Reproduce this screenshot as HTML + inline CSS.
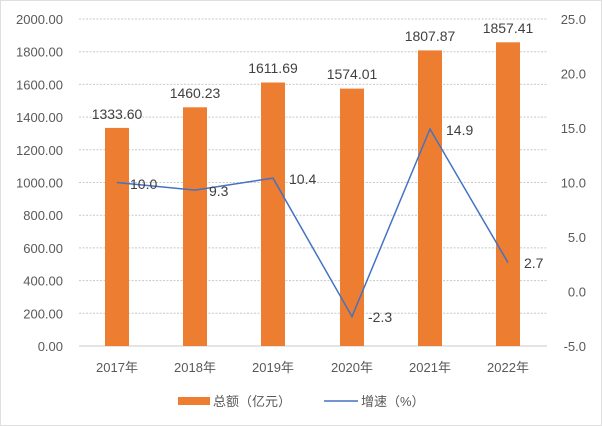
<!DOCTYPE html>
<html><head><meta charset="utf-8"><style>
body{margin:0;background:#fff}
svg{display:block}
text{font-family:"Liberation Sans","Noto Sans CJK SC",sans-serif}
</style></head><body>
<svg width="602" height="426" viewBox="0 0 602 426">
<rect x="0.5" y="0.5" width="601" height="425" fill="#fff" stroke="#bfbfbf" stroke-dasharray="1,1"/>
<g stroke="#c8c8c8" stroke-dasharray="2,1.5" stroke-width="1">
<line x1="79" x2="547" y1="19" y2="19"/><line x1="79" x2="547" y1="51.7" y2="51.7"/>
<line x1="79" x2="547" y1="84.4" y2="84.4"/><line x1="79" x2="547" y1="117.1" y2="117.1"/>
<line x1="79" x2="547" y1="149.8" y2="149.8"/><line x1="79" x2="547" y1="182.5" y2="182.5"/>
<line x1="79" x2="547" y1="215.2" y2="215.2"/><line x1="79" x2="547" y1="247.9" y2="247.9"/>
<line x1="79" x2="547" y1="280.6" y2="280.6"/><line x1="79" x2="547" y1="313.3" y2="313.3"/>
</g>
<line x1="79" x2="547" y1="346" y2="346" stroke="#c8c8c8"/>
<g font-size="13" fill="#595959" text-anchor="end">
<text x="63" y="24">2000.00</text><text x="63" y="56.7">1800.00</text><text x="63" y="89.4">1600.00</text>
<text x="63" y="122.1">1400.00</text><text x="63" y="154.8">1200.00</text><text x="63" y="187.5">1000.00</text>
<text x="63" y="220.2">800.00</text><text x="63" y="252.9">600.00</text><text x="63" y="285.6">400.00</text>
<text x="63" y="318.3">200.00</text><text x="63" y="351">0.00</text>
</g>
<g font-size="13" fill="#595959" text-anchor="end">
<text x="586" y="24">25.0</text><text x="586" y="78.5">20.0</text><text x="586" y="133">15.0</text>
<text x="586" y="187.5">10.0</text><text x="586" y="242">5.0</text><text x="586" y="296.5">0.0</text><text x="586" y="351">-5.0</text>
</g>
<g fill="#ed7d31">
<rect x="105" y="127.9" width="24" height="218.1"/>
<rect x="183" y="107.3" width="24" height="238.7"/>
<rect x="261" y="82.5" width="24" height="263.5"/>
<rect x="340" y="88.6" width="24" height="257.4"/>
<rect x="418" y="50.4" width="24" height="295.6"/>
<rect x="496" y="42.3" width="24" height="303.7"/>
</g>
<polyline fill="none" stroke="#4472c4" stroke-width="1.5" points="117,182.5 195,190.1 273,178.1 352,316.6 430,129 508,262.6"/>
<g font-size="14" fill="#404040" text-anchor="middle">
<text x="117" y="119">1333.60</text><text x="195" y="98">1460.23</text><text x="273" y="73">1611.69</text>
<text x="352" y="79">1574.01</text><text x="430" y="41">1807.87</text><text x="508" y="33">1857.41</text>
</g>
<g font-size="14" fill="#404040">
<text x="130" y="189">10.0</text><text x="209" y="196">9.3</text><text x="289" y="184">10.4</text>
<text x="368" y="322">-2.3</text><text x="446" y="135">14.9</text><text x="524" y="268">2.7</text>
</g>
<g font-size="13" fill="#595959" text-anchor="middle">
<text x="117" y="372">2017年</text><text x="195" y="372">2018年</text><text x="273" y="372">2019年</text>
<text x="352" y="372">2020年</text><text x="430" y="372">2021年</text><text x="508" y="372">2022年</text>
</g>
<rect x="178" y="397" width="32" height="8" fill="#ed7d31"/>
<text x="213" y="406" font-size="13" fill="#595959">总额（亿元）</text>
<line x1="324" x2="358" y1="401" y2="401" stroke="#4472c4" stroke-width="1.5"/>
<text x="361" y="406" font-size="13" fill="#595959">增速（%）</text>
</svg>
</body></html>
